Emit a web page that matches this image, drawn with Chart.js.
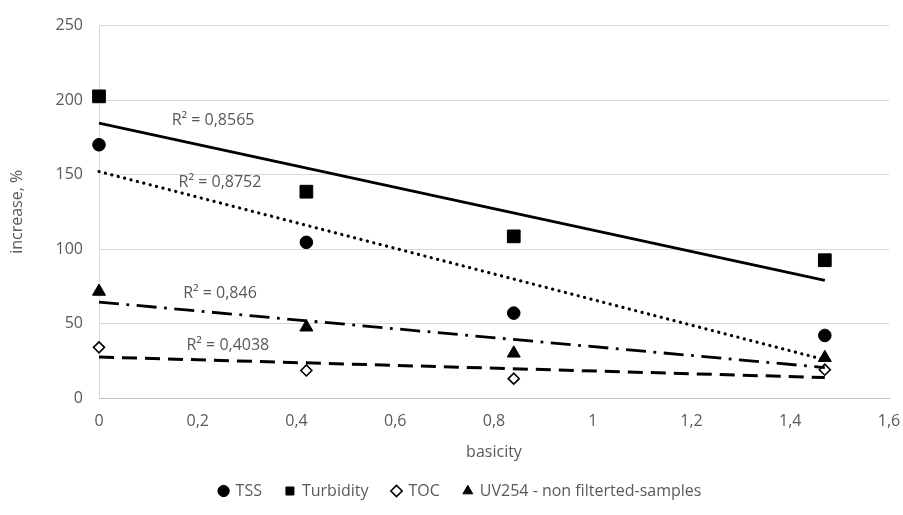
<!DOCTYPE html>
<html>
<head>
<meta charset="utf-8">
<title>increase vs basicity</title>
<script src="https://cdn.jsdelivr.net/npm/chart.js@4.4.1/dist/chart.umd.min.js"></script>
<style>
  html, body { margin: 0; padding: 0; background: #fff; }
  #wrap { width: 903px; height: 515px; }
</style>
</head>
<body>
<div id="wrap"><canvas id="chart" width="903" height="515"></canvas></div>
<script>
// basicity of the coagulant
const basicity = [0, 0.42, 0.84, 1.47];

// increase, % for each parameter
const tss = [170, 104.5, 57, 42];
const turbidity = [202.5, 138.5, 108.5, 92.5];
const toc = [34, 18.5, 13, 19];
const uv254 = [71.5, 47.5, 30, 27];

const seriesNames = ['TSS', 'Turbidity', 'TOC', 'UV254 - non filterted-samples'];
const rSquaredLabels = ['R² = 0,8752', 'R² = 0,8565', 'R² = 0,4038', 'R² = 0,846'];

const yTicks = [0, 50, 100, 150, 200, 250];
const xTicks = [0, 0.2, 0.4, 0.6, 0.8, 1, 1.2, 1.4, 1.6];

const grey = '#595959';
const font = { family: "'Open Sans', sans-serif", size: 16 };

function toPoints(xs, ys) {
  return xs.map((x, i) => ({ x: x, y: ys[i] }));
}

// least squares line over the measured range
function trend(xs, ys) {
  const n = xs.length;
  const mx = xs.reduce((a, b) => a + b, 0) / n;
  const my = ys.reduce((a, b) => a + b, 0) / n;
  let sxy = 0, sxx = 0;
  for (let i = 0; i < n; i++) {
    sxy += (xs[i] - mx) * (ys[i] - my);
    sxx += (xs[i] - mx) * (xs[i] - mx);
  }
  const k = sxy / sxx;
  const b = my - k * mx;
  const x0 = Math.min(...xs), x1 = Math.max(...xs);
  return [{ x: x0, y: b + k * x0 }, { x: x1, y: b + k * x1 }];
}

function trendSet(ys, dash, width, cap) {
  return {
    label: 'trend',
    data: trend(basicity, ys),
    showLine: true,
    borderColor: '#000',
    borderWidth: width,
    borderDash: dash,
    borderCapStyle: cap,
    pointRadius: 0,
    pointHoverRadius: 0,
    fill: false,
    clip: false
  };
}

function markerSet(name, ys, style, r, fillColor, bw) {
  return {
    label: name,
    data: toPoints(basicity, ys),
    pointStyle: style,
    pointRadius: r,
    pointBackgroundColor: fillColor,
    pointBorderColor: '#000',
    pointBorderWidth: bw,
    clip: false
  };
}

// where the R² notes sit, in axis units
const noteAt = [
  { x: 0.245, y: 144.5 },
  { x: 0.231, y: 186 },
  { x: 0.261, y: 35.5 },
  { x: 0.245, y: 70.5 }
];

const rSquaredNotes = {
  id: 'rSquaredNotes',
  afterDatasetsDraw(chart) {
    const ctx = chart.ctx;
    const sx = chart.scales.x, sy = chart.scales.y;
    ctx.save();
    ctx.font = font.size + 'px ' + font.family;
    ctx.fillStyle = grey;
    ctx.textAlign = 'center';
    ctx.textBaseline = 'middle';
    rSquaredLabels.forEach((t, i) => {
      ctx.fillText(t, sx.getPixelForValue(noteAt[i].x), sy.getPixelForValue(noteAt[i].y));
    });
    ctx.restore();
  }
};

// shorter legend box, and the row nudged right under the plot
const legendTweak = {
  id: 'legendTweak',
  afterInit(chart) {
    const lg = chart.legend;
    const fit = lg.fit;
    const draw = lg.draw;
    lg.fit = function () {
      fit.call(this);
      this.height = 56;
    };
    lg.draw = function () {
      this.ctx.save();
      this.ctx.translate(16, 0);
      draw.call(this);
      this.ctx.restore();
    };
  }
};

new Chart(document.getElementById('chart'), {
  type: 'scatter',
  data: {
    datasets: [
      trendSet(tss, [0.1, 6.5], 3.2, 'round'),
      trendSet(turbidity, [], 2.8, 'butt'),
      trendSet(toc, [15, 8], 3, 'butt'),
      trendSet(uv254, [20, 7.5, 2.8, 7.5], 2.8, 'butt'),
      markerSet(seriesNames[0], tss, 'circle', 6.3, '#000', 1),
      markerSet(seriesNames[1], turbidity, 'rect', 9, '#000', 1),
      markerSet(seriesNames[2], toc, 'rectRot', 5.5, '#fff', 1.6),
      markerSet(seriesNames[3], uv254, 'triangle', 7.5, '#000', 1)
    ]
  },
  options: {
    responsive: false,
    animation: false,
    events: [],
    layout: { padding: { top: 18, right: 14, bottom: 0, left: 0 } },
    scales: {
      x: {
        type: 'linear',
        min: 0,
        max: 1.6,
        afterFit: s => {
          s.height = 61;
          s.paddingLeft = 0;
          s.paddingRight = 0;
        },
        afterBuildTicks: s => { s.ticks = xTicks.map(v => ({ value: v })); },
        ticks: {
          color: grey,
          font: font,
          padding: 14,
          callback: v => String(Math.round(v * 10) / 10).replace('.', ',')
        },
        grid: { display: false, drawTicks: false },
        border: { display: true, color: '#bfbfbf', width: 1 },
        title: {
          display: true,
          text: 'basicity',
          color: grey,
          font: font,
          padding: { top: 0, bottom: -3 }
        }
      },
      y: {
        type: 'linear',
        min: 0,
        max: 250,
        afterFit: s => { s.width = 99; },
        afterBuildTicks: s => { s.ticks = yTicks.map(v => ({ value: v })); },
        ticks: { color: grey, font: font, padding: 16 },
        grid: { color: '#d9d9d9', lineWidth: 1, drawTicks: false },
        border: { display: true, color: '#d9d9d9', width: 1 },
        title: {
          display: true,
          text: 'increase, %',
          color: grey,
          font: font,
          padding: { top: 8, bottom: 0 }
        }
      }
    },
    plugins: {
      legend: {
        position: 'bottom',
        labels: {
          usePointStyle: true,
          boxWidth: 8,
          boxHeight: 8,
          padding: 24,
          color: grey,
          font: font,
          filter: item => item.text !== 'trend'
        }
      },
      tooltip: { enabled: false }
    }
  },
  plugins: [rSquaredNotes, legendTweak]
});
</script>
</body>
</html>
